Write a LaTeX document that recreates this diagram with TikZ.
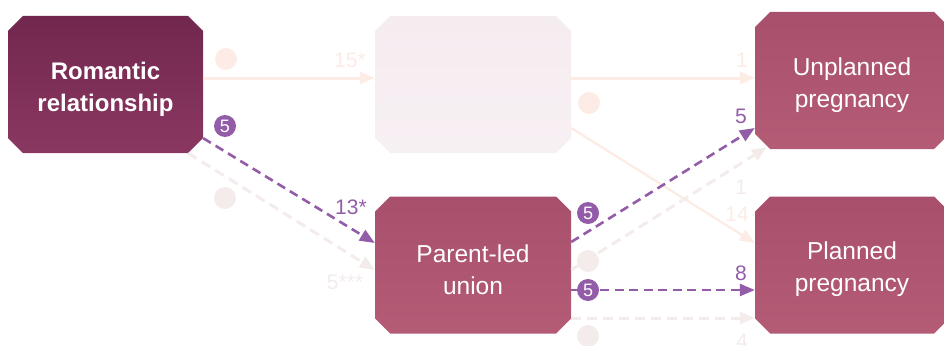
\documentclass[tikz,border=0pt]{standalone}
\usepackage{fontspec}
\setmainfont{Liberation Sans}
\usetikzlibrary{arrows.meta}
\definecolor{plumA}{HTML}{72274E}
\definecolor{plumB}{HTML}{8A3861}
\definecolor{roseA}{HTML}{A84F6C}
\definecolor{roseB}{HTML}{B45C76}
\definecolor{faintA}{HTML}{F5ECF0}
\definecolor{faintB}{HTML}{F7F0F3}
\definecolor{purp}{HTML}{935CA8}
\definecolor{peach}{HTML}{FCECE5}
\definecolor{greyf}{HTML}{F3ECEA}
\newcommand\tallstrut{\rule{0pt}{26.5pt}}
\tikzset{
  x=1pt, y=-1pt,
  cham/.style 2 args={path picture={
    \shade[top color=#1, bottom color=#2]
      ([xshift=15pt]path picture bounding box.north west) -- ([xshift=-15pt]path picture bounding box.north east)
      -- ([yshift=-15pt]path picture bounding box.north east) -- ([yshift=15pt]path picture bounding box.south east)
      -- ([xshift=-15pt]path picture bounding box.south east) -- ([xshift=15pt]path picture bounding box.south west)
      -- ([yshift=15pt]path picture bounding box.south west) -- ([yshift=-15pt]path picture bounding box.north west) -- cycle;}},
  box/.style={minimum width=#1, minimum height=137pt, inner sep=0pt, align=center, text=white,
    font=\fontsize{24.5}{32}\selectfont},
  tip/.style={-{Triangle[length=15pt,width=12pt]}},
  purpline/.style={tip, draw=purp, line width=2.6pt, dash pattern=on 9pt off 5.5pt},
  greyline/.style={tip, draw=greyf, line width=3pt, dash pattern=on 10pt off 6pt},
  peachline/.style={tip, draw=peach, line width=3pt},
  num/.style={font=\fontsize{21}{21}\selectfont, inner sep=0pt},
  pcirc/.style={circle, fill=purp, text=white, minimum size=22pt, inner sep=0pt, font=\fontsize{18}{18}\selectfont},
  fcirc/.style={circle, fill=#1, minimum size=22pt, inner sep=0pt},
}
\begin{document}
\begin{tikzpicture}
\useasboundingbox (0,0) rectangle (944,345);
% boxes
\node[box=195pt, cham={plumA}{plumB}, font=\bfseries\fontsize{24}{32}\selectfont] (rr) at (105.5,84.5) {\tallstrut Romantic\\relationship};
\node[box=196pt, cham={faintA}{faintB}] (mid) at (473,84.5) {};
\node[box=194pt, cham={roseA}{roseB}] (up) at (852,80.5) {\tallstrut Unplanned\\pregnancy};
\node[box=196pt, cham={roseA}{roseB}] (pu) at (473,265) {\tallstrut Parent-led\\union};
\node[box=194pt, cham={roseA}{roseB}] (pp) at (852,265) {\tallstrut Planned\\pregnancy};

% faded connectors
\draw[peachline] ([yshift=6.5pt]rr.east) -- ([yshift=6.5pt]mid.west);
\draw[peachline] ([yshift=6.5pt]mid.east) -- ([yshift=2.5pt]up.west);
\draw[peachline, line width=2.3pt] ([yshift=-43.5pt]mid.east) -- ([yshift=22pt]pp.west);
\draw[greyline] ([xshift=-15pt]rr.south east) -- ([yshift=-5pt]pu.west);
\draw[greyline] ([yshift=-5pt]pu.east) -- ([shift={(12pt,2pt)}]up.south west);
\draw[greyline] ([yshift=-53pt]pu.east) -- ([yshift=-53pt]pp.west);

% purple connectors
\draw[purpline] ([yshift=15pt]rr.south east) -- ([yshift=22pt]pu.west);
\draw[purpline] ([yshift=23pt]pu.east) -- ([yshift=-47.5pt]up.west);
\draw[purpline] ([yshift=-25pt]pu.east) -- ([yshift=-25pt]pp.west);

% faded circles
\node[fcirc=peach] (c1) at (226,59) {};
\node[fcirc=peach] (c2) at (589,103) {};
\node[fcirc=greyf] (c3) at (225,198) {};
\node[fcirc=greyf] (c4) at (588,261) {};
\node[fcirc=greyf] (c5) at (588,336) {};

% purple circles
\node[pcirc] (p1) at (225,126) {5};
\node[pcirc] (p2) at (588,213) {5};
\node[pcirc] (p3) at (588,290) {5};

% faded numbers
\node[num, text=peach] (n1) at (350,60) {15*};
\node[num, text=peach] (n2) at (742,60) {1};
\node[num, text=peach] (n3) at (737,214) {14};
\node[num, text=greyf] (n4) at (741,187) {1};
\node[num, text=greyf] (n5) at (345,282) {5***};
\node[num, text=greyf] (n6) at (742,341) {4};

% purple numbers
\node[num, text=purp] (m1) at (351,207) {13*};
\node[num, text=purp] (m2) at (741,116) {5};
\node[num, text=purp] (m3) at (741,273) {8};
\end{tikzpicture}
\end{document}
